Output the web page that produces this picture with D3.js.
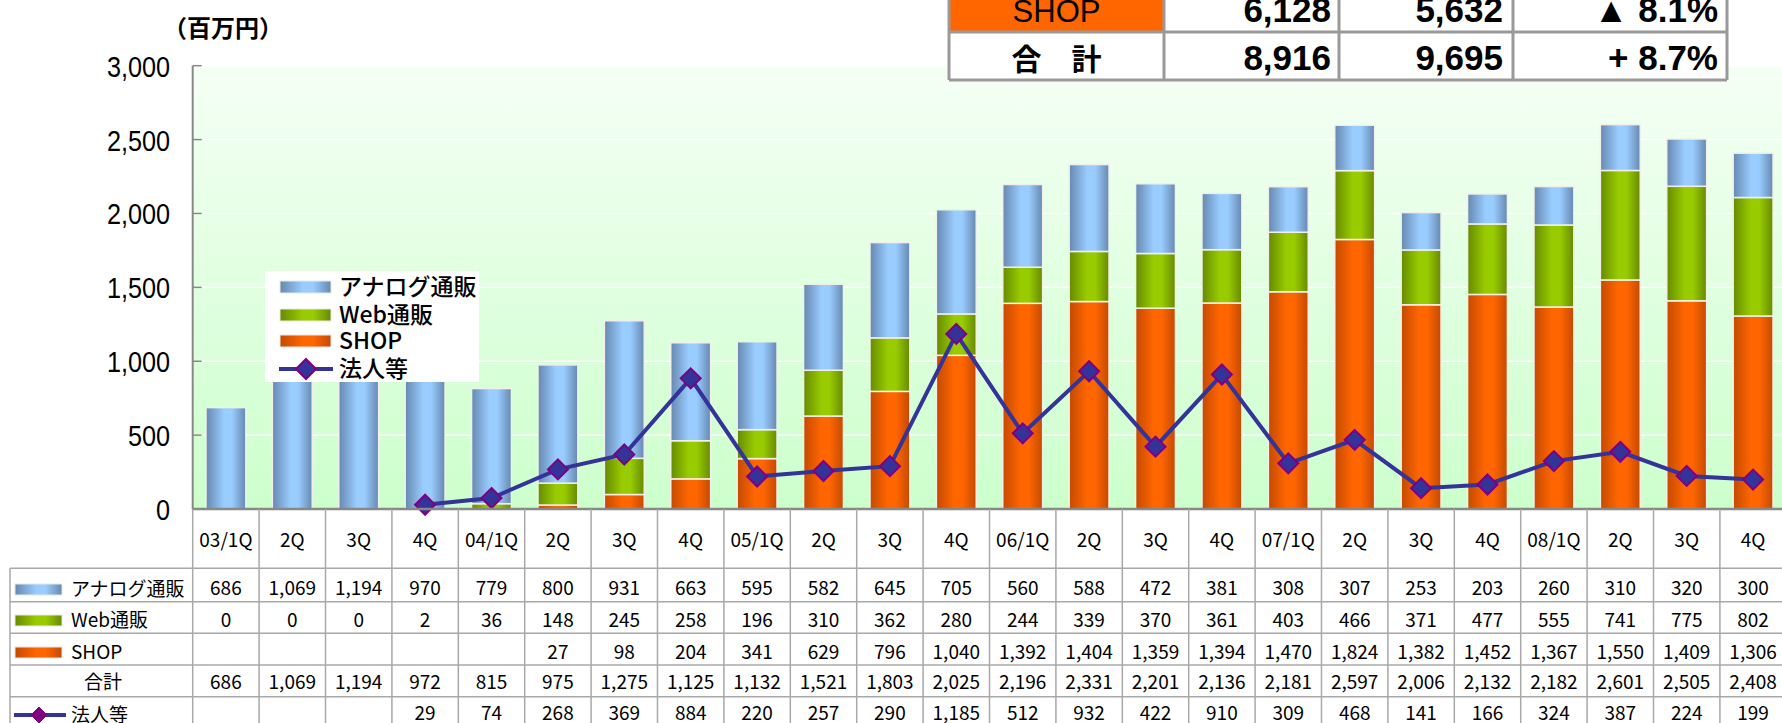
<!DOCTYPE html>
<html>
<head>
<meta charset="utf-8">
<script src="https://d3js.org/d3.v7.min.js"></script>
<style>
	body { margin: 0; padding: 0; background: #fff; }
	svg { display: block; }
	.jp { font-family: "Noto Sans CJK JP", "Noto Sans", sans-serif; }
	.lat { font-family: "Liberation Sans", Arial, sans-serif; }
</style>
</head>
<body>
<div id="chart"></div>
<script>
	// 四半期
	var cats = ["03/1Q","2Q","3Q","4Q","04/1Q","2Q","3Q","4Q","05/1Q","2Q","3Q","4Q",
		"06/1Q","2Q","3Q","4Q","07/1Q","2Q","3Q","4Q","08/1Q","2Q","3Q","4Q"];
	var analog = [686,1069,1194,970,779,800,931,663,595,582,645,705,560,588,472,381,308,307,253,203,260,310,320,300];
	var web = [0,0,0,2,36,148,245,258,196,310,362,280,244,339,370,361,403,466,371,477,555,741,775,802];
	var shop = [null,null,null,null,null,27,98,204,341,629,796,1040,1392,1404,1359,1394,1470,1824,1382,1452,1367,1550,1409,1306];
	var total = [686,1069,1194,972,815,975,1275,1125,1132,1521,1803,2025,2196,2331,2201,2136,2181,2597,2006,2132,2182,2601,2505,2408];
	var corp = [null,null,null,29,74,268,369,884,220,257,290,1185,512,932,422,910,309,468,141,166,324,387,224,199];
	var yTicks = [0,500,1000,1500,2000,2500,3000];

	// 右上の表 (見えている2行)
	var sumLabels = ["SHOP","合　計"];
	var sumA = ["6,128","8,916"];
	var sumB = ["5,632","9,695"];
	var sumRate = ["▲ 8.1%","+ 8.7%"];

	var W = 1782, H = 723,
		left = 192.7, step = 66.4,
		zeroY = 509, topY = 65.7;

	var svg = d3.select("#chart").append("svg")
		.attr("width", W)
		.attr("height", H);

	var defs = svg.append("defs");

	var bg = defs.append("linearGradient").attr("id","bg")
		.attr("x1",0).attr("y1",0).attr("x2",0).attr("y2",1);
	bg.append("stop").attr("offset","0%").attr("stop-color","#f5fff5");
	bg.append("stop").attr("offset","100%").attr("stop-color","#ccffcc");

	function barGrad(id, dark, light) {
		var g = defs.append("linearGradient").attr("id", id)
			.attr("x1",0).attr("y1",0).attr("x2",1).attr("y2",0);
		g.append("stop").attr("offset","0%").attr("stop-color", dark);
		g.append("stop").attr("offset","45%").attr("stop-color", light);
		g.append("stop").attr("offset","65%").attr("stop-color", light);
		g.append("stop").attr("offset","100%").attr("stop-color", dark);
	}
	barGrad("gBlue", "#6688b0", "#99ccff");
	barGrad("gGreen", "#668a00", "#99cc00");
	barGrad("gOrange", "#c44a00", "#ff6600");

	var x = d3.scaleBand()
		.domain(d3.range(cats.length))
		.range([left, left + step * cats.length])
		.paddingInner(0.4)
		.paddingOuter(0.2);

	var y = d3.scaleLinear()
		.domain([0, 3000])
		.range([zeroY, topY]);

	function cx(i) { return x(i) + x.bandwidth() / 2; }

	// 背景
	svg.append("rect")
		.attr("x", left).attr("y", topY)
		.attr("width", W - left).attr("height", zeroY - topY)
		.attr("fill", "url(#bg)");

	// グリッド
	svg.selectAll(".grid")
		.data(yTicks.filter(function(d) { return d > 0; }))
		.enter().append("line")
		.attr("class","grid")
		.attr("x1", left).attr("x2", W)
		.attr("y1", function(d) { return y(d); })
		.attr("y2", function(d) { return y(d); })
		.style("stroke", "#ffffff")
		.style("stroke-width", 1.5);

	// 目盛
	svg.selectAll(".ytick")
		.data(yTicks)
		.enter().append("line")
		.attr("x1", left).attr("x2", left + 9)
		.attr("y1", function(d) { return y(d); })
		.attr("y2", function(d) { return y(d); })
		.style("stroke", "#888").style("stroke-width", 1.5);

	svg.selectAll(".ylab")
		.data(yTicks)
		.enter().append("text")
		.attr("class","lat")
		.attr("transform", function(d) { return "translate(170," + (y(d) + 11) + ") scale(0.87,1)"; })
		.attr("text-anchor","end")
		.style("font-size","29px")
		.text(d3.format(","));

	svg.append("text")
		.attr("class","jp")
		.attr("x", 223).attr("y", 37)
		.attr("text-anchor","middle")
		.style("font-size","24px").style("font-weight","bold")
		.text("（百万円）");

	// 積み上げ棒
	var series = [
		{name:"SHOP", vals: shop, fill:"url(#gOrange)"},
		{name:"Web", vals: web, fill:"url(#gGreen)"},
		{name:"Analog", vals: analog, fill:"url(#gBlue)"}
	];
	var base = cats.map(function() { return 0; });
	series.forEach(function(s) {
		var segs = s.vals.map(function(v, i) { return {i: i, v: v || 0, b: base[i]}; })
			.filter(function(d) { return d.v > 0; });
		svg.selectAll(".bar-" + s.name)
			.data(segs)
			.enter().append("rect")
			.attr("x", function(d) { return x(d.i); })
			.attr("width", x.bandwidth())
			.attr("y", function(d) { return y(d.b + d.v); })
			.attr("height", function(d) { return y(d.b) - y(d.b + d.v); })
			.attr("fill", s.fill)
			.style("stroke", "#f0f0e8")
			.style("stroke-width", 1.5);
		s.vals.forEach(function(v, i) { base[i] += v || 0; });
	});

	// 軸線
	svg.append("line")
		.attr("x1", left).attr("x2", left).attr("y1", topY).attr("y2", zeroY)
		.style("stroke","#888").style("stroke-width",2);

	// 法人等
	var corpPts = corp.map(function(v, i) { return {i: i, v: v}; });

	var line = d3.line()
		.defined(function(d) { return d.v != null; })
		.x(function(d) { return cx(d.i); })
		.y(function(d) { return y(d.v); });

	svg.append("path")
		.datum(corpPts)
		.attr("d", line)
		.style("fill","none")
		.style("stroke","#333399")
		.style("stroke-width",4);

	var diamond = "M0,-10L10,0L0,10L-10,0Z";
	svg.selectAll(".mark")
		.data(corpPts.filter(function(d) { return d.v != null; }))
		.enter().append("path")
		.attr("d", diamond)
		.attr("transform", function(d) { return "translate(" + cx(d.i) + "," + y(d.v) + ")"; })
		.style("fill","#333399")
		.style("stroke","#800080")
		.style("stroke-width",2);

	// 凡例
	var leg = svg.append("g");
	leg.append("rect")
		.attr("x",265).attr("y",271).attr("width",214).attr("height",111)
		.style("fill","#ffffff");
	var legItems = [
		{label:"アナログ通販", fill:"url(#gBlue)", cy:287},
		{label:"Web通販", fill:"url(#gGreen)", cy:315},
		{label:"SHOP", fill:"url(#gOrange)", cy:341},
		{label:"法人等", fill:null, cy:369}
	];
	legItems.forEach(function(d) {
		if (d.fill) {
			leg.append("rect")
				.attr("x",280).attr("y",d.cy - 6).attr("width",51).attr("height",12)
				.attr("fill", d.fill).style("stroke","#e8e8e8").style("stroke-width",1);
		} else {
			leg.append("line")
				.attr("x1",279).attr("x2",333).attr("y1",d.cy).attr("y2",d.cy)
				.style("stroke","#333399").style("stroke-width",4);
			leg.append("path").attr("d", diamond)
				.attr("transform","translate(306," + d.cy + ")")
				.style("fill","#333399").style("stroke","#800080").style("stroke-width",2);
		}
		leg.append("text")
			.attr("class","jp")
			.attr("x",339).attr("y",d.cy + 8)
			.style("font-size","23px")
			.style("font-weight","500")
			.text(d.label);
	});

	// データ表
	var rowLines = [568.3, 601.7, 633.3, 665, 696.7];
	var tLeft = 10;
	var tbl = svg.append("g");

	tbl.append("line")
		.attr("x1", left).attr("x2", W).attr("y1", zeroY).attr("y2", zeroY)
		.style("stroke","#888").style("stroke-width",2.5);

	rowLines.forEach(function(ry) {
		tbl.append("line")
			.attr("x1", tLeft).attr("x2", W).attr("y1", ry).attr("y2", ry)
			.style("stroke","#a8a8a8").style("stroke-width",1.5);
	});
	tbl.append("line")
		.attr("x1", tLeft).attr("x2", tLeft).attr("y1", rowLines[0]).attr("y2", H)
		.style("stroke","#a8a8a8").style("stroke-width",1.5);

	tbl.selectAll(".vcol")
		.data(d3.range(cats.length + 1))
		.enter().append("line")
		.attr("x1", function(i) { return left + step * i; })
		.attr("x2", function(i) { return left + step * i; })
		.attr("y1", zeroY).attr("y2", H)
		.style("stroke","#a8a8a8").style("stroke-width",1.5);

	var fmt = d3.format(",");
	var rows = [
		{vals: analog, cy: 588},
		{vals: web, cy: 620},
		{vals: shop, cy: 652},
		{vals: total, cy: 682},
		{vals: corp, cy: 713}
	];

	tbl.selectAll(".cat")
		.data(cats)
		.enter().append("text")
		.attr("class","jp")
		.attr("x", function(d, i) { return cx(i); })
		.attr("y", 547)
		.attr("text-anchor","middle")
		.style("font-size","19px")
		.text(function(d) { return d; });

	rows.forEach(function(r) {
		tbl.selectAll(null)
			.data(r.vals)
			.enter().append("text")
			.attr("class","jp")
			.attr("x", function(d, i) { return cx(i); })
			.attr("y", r.cy + 7)
			.attr("text-anchor","middle")
			.style("font-size","19px")
			.text(function(d) { return d == null ? "" : fmt(d); });
	});

	// 表の凡例列
	var tLeg = [
		{label:"アナログ通販", fill:"url(#gBlue)", cy:589},
		{label:"Web通販", fill:"url(#gGreen)", cy:620},
		{label:"SHOP", fill:"url(#gOrange)", cy:652}
	];
	tLeg.forEach(function(d) {
		tbl.append("rect")
			.attr("x",15).attr("y",d.cy - 5).attr("width",47).attr("height",11)
			.attr("fill", d.fill).style("stroke","#e8e8e8").style("stroke-width",1);
		tbl.append("text")
			.attr("class","jp")
			.attr("x",71).attr("y",d.cy + 7)
			.style("font-size","19px")
			.text(d.label);
	});
	tbl.append("text")
		.attr("class","jp")
		.attr("x",103).attr("y",689)
		.attr("text-anchor","middle")
		.style("font-size","19px")
		.text("合計");
	tbl.append("line")
		.attr("x1",14).attr("x2",66).attr("y1",715).attr("y2",715)
		.style("stroke","#333399").style("stroke-width",4);
	tbl.append("path").attr("d", "M0,-8L8,0L0,8L-8,0Z")
		.attr("transform","translate(39,715)")
		.style("fill","#800080").style("stroke","#800080").style("stroke-width",1);
	tbl.append("text")
		.attr("class","jp")
		.attr("x",71).attr("y",722)
		.style("font-size","19px")
		.text("法人等");

	// 右上の表
	var sx = [949, 1164, 1339, 1513, 1727],
		sy = [-16, 32, 80];
	var st = svg.append("g");
	st.append("rect").attr("x", sx[0]).attr("y", sy[0]).attr("width", sx[4] - sx[0]).attr("height", sy[2] - sy[0])
		.style("fill","#ffffff");
	st.append("rect").attr("x", sx[0]).attr("y", sy[0]).attr("width", sx[1] - sx[0]).attr("height", sy[1] - sy[0])
		.style("fill","#ff6600");
	sy.forEach(function(v) {
		st.append("line").attr("x1", sx[0]).attr("x2", sx[4]).attr("y1", v).attr("y2", v)
			.style("stroke","#999").style("stroke-width",3);
	});
	sx.forEach(function(v) {
		st.append("line").attr("x1", v).attr("x2", v).attr("y1", sy[0]).attr("y2", sy[2])
			.style("stroke","#999").style("stroke-width",3);
	});
	[22, 70].forEach(function(by, r) {
		st.append("text")
			.attr("class", r == 0 ? "lat" : "jp")
			.attr("x", (sx[0] + sx[1]) / 2).attr("y", by)
			.attr("text-anchor","middle")
			.style("font-size", r == 0 ? "31px" : "30px")
			.style("font-weight", r == 0 ? "normal" : "bold")
			.text(sumLabels[r]);
		[[sumA, sx[2] - 8], [sumB, sx[3] - 10], [sumRate, sx[4] - 9]].forEach(function(c) {
			st.append("text")
				.attr("class","lat")
				.attr("x", c[1]).attr("y", by)
				.attr("text-anchor","end")
				.style("font-size","35px")
				.style("font-weight","bold")
				.text(c[0][r]);
		});
	});
</script>
</body>
</html>
